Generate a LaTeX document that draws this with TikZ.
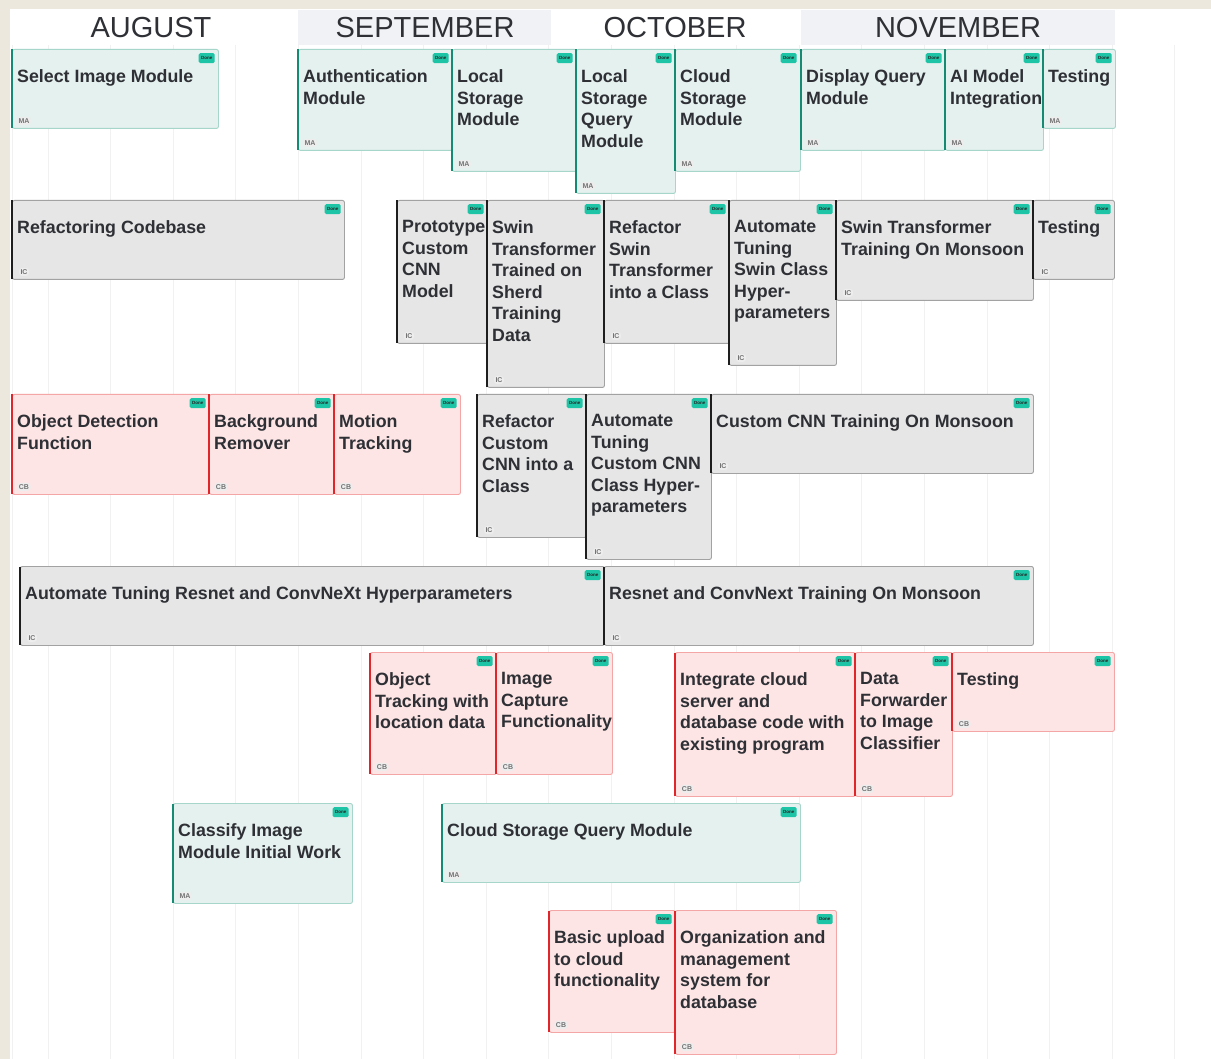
\documentclass[tikz,border=0pt]{standalone}
\usepackage{fontspec}
\setmainfont{Liberation Sans}
\definecolor{paper}{HTML}{EDE8DD}
\definecolor{monthgrey}{HTML}{F1F2F6}
\definecolor{gridcol}{HTML}{F1F1F1}
\definecolor{inkcol}{HTML}{2E3035}
\definecolor{mafill}{HTML}{E5F1EE}
\definecolor{mabord}{HTML}{A6D6CA}
\definecolor{maline}{HTML}{168B73}
\definecolor{icfill}{HTML}{E6E6E6}
\definecolor{icbord}{HTML}{A2A2A2}
\definecolor{icline}{HTML}{1E1E1E}
\definecolor{cbfill}{HTML}{FDE5E5}
\definecolor{cbbord}{HTML}{F4A5A5}
\definecolor{cbline}{HTML}{E0262A}
\definecolor{donefill}{HTML}{1DC4A6}
\tikzstyle{mabox} = [rectangle, rounded corners=2pt, anchor=north west, line width=0.9pt, draw=mabord, fill=mafill]
\tikzstyle{icbox} = [rectangle, rounded corners=2pt, anchor=north west, line width=0.9pt, draw=icbord, fill=icfill]
\tikzstyle{cbbox} = [rectangle, rounded corners=2pt, anchor=north west, line width=0.9pt, draw=cbbord, fill=cbfill]
\tikzstyle{maedge} = [line width=2.4pt, maline]
\tikzstyle{icedge} = [line width=2.4pt, icline]
\tikzstyle{cbedge} = [line width=2.4pt, cbline]
\tikzstyle{donetag} = [rectangle, rounded corners=1.5pt, fill=donefill, minimum width=16pt, minimum height=10pt, inner sep=0pt, text=black!85, font=\fontsize{4.5}{5}\selectfont\bfseries]
\tikzstyle{cardtitle} = [anchor=north west, align=left, inner sep=0pt, text=inkcol, font=\fontsize{17.8}{21.5}\selectfont\bfseries]
\tikzstyle{initials} = [rectangle, rounded corners=3pt, fill=black!7, inner sep=1.5pt, text=black!55, font=\fontsize{7}{8}\selectfont\bfseries]
\tikzstyle{month} = [inner sep=0pt, text=inkcol, font=\fontsize{29}{30}\selectfont]
\tikzstyle{gridline} = [gridcol, line width=0.8pt]
% card: name, kind, x, y, width, height, title, initials
\newcommand{\card}[8]{%
  \node (#1) [#2box, minimum width=#5pt, minimum height=#6pt] at (#3,#4) {};
  \draw [#2edge] ([yshift=-0.5pt]#1.north west) -- ([yshift=0.5pt]#1.south west);
  \node (#1-done) [donetag, anchor=north east] at ([xshift=-4pt,yshift=-4pt]#1.north east) {Done};
  \node (#1-title) [cardtitle] at ([xshift=5pt,yshift=-20.5pt]#1.north west) {#7};
  \node (#1-who) [initials] at ([xshift=12pt,yshift=8pt]#1.south west) {#8};
}

\begin{document}
\begin{tikzpicture}[x=1pt, y=-1pt]
\useasboundingbox (0,0) rectangle (1211,1059);
% board
\fill [paper] (0,0) rectangle (1211,1059);
\fill [white] (10,9) rectangle (1211,1059);
\fill [monthgrey] (298,10) rectangle (551,45);
\fill [monthgrey] (801,10) rectangle (1115,45);
\draw [gridline] (12,45) -- (12,1059);
\foreach \k in {0,...,18}
  \draw [gridline] ({48+62.6*\k},45) -- ({48+62.6*\k},1059);

% months
\node (aug) [month] at (151,28) {AUGUST};
\node (sep) [month] at (425,28) {SEPTEMBER};
\node (oct) [month] at (675,28) {OCTOBER};
\node (nov) [month] at (958,28) {NOVEMBER};

% MA
\card{ma1}{ma}{12}{49}{206}{79}{Select Image Module}{MA}
\card{ma2}{ma}{298}{49}{154}{101}{Authentication\\Module}{MA}
\card{ma3}{ma}{452}{49}{124}{122}{Local\\Storage\\Module}{MA}
\card{ma4}{ma}{576}{49}{99}{144}{Local\\Storage\\Query\\Module}{MA}
\card{ma5}{ma}{675}{49}{125}{122}{Cloud\\Storage\\Module}{MA}
\card{ma6}{ma}{801}{49}{144}{101}{Display Query\\Module}{MA}
\card{ma7}{ma}{945}{49}{98}{101}{AI Model\\Integration}{MA}
\card{ma8}{ma}{1043}{49}{72}{79}{Testing}{MA}

% IC
\card{ic1}{ic}{12}{200}{332}{79}{Refactoring Codebase}{IC}
\card{ic2}{ic}{397}{200}{90}{143}{Prototype\\Custom\\CNN\\Model}{IC}
\card{ic3}{ic}{487}{200}{117}{187}{Swin\\Transformer\\Trained on\\Sherd\\Training\\Data}{IC}
\card{ic4}{ic}{604}{200}{125}{143}{Refactor\\Swin\\Transformer\\into a Class}{IC}
\card{ic5}{ic}{729}{200}{107}{165}{Automate\\Tuning\\Swin Class\\Hyper-\\parameters}{IC}
\card{ic6}{ic}{836}{200}{197}{100}{Swin Transformer\\Training On Monsoon}{IC}
\card{ic7}{ic}{1033}{200}{81}{79}{Testing}{IC}

% CB
\card{cb1}{cb}{12}{394}{197}{100}{Object Detection\\Function}{CB}
\card{cb2}{cb}{209}{394}{125}{100}{Background\\Remover}{CB}
\card{cb3}{cb}{334}{394}{126}{100}{Motion\\Tracking}{CB}

% IC
\card{ic8}{ic}{477}{394}{109}{143}{Refactor\\Custom\\CNN into a\\Class}{IC}
\card{ic9}{ic}{586}{394}{125}{165}{Automate\\Tuning\\Custom CNN\\Class Hyper-\\parameters}{IC}
\card{ic10}{ic}{711}{394}{322}{79}{Custom CNN Training On Monsoon}{IC}
\card{ic11}{ic}{20}{566}{584}{79}{Automate Tuning Resnet and ConvNeXt Hyperparameters}{IC}
\card{ic12}{ic}{604}{566}{429}{79}{Resnet and ConvNext Training On Monsoon}{IC}

% CB
\card{cb4}{cb}{370}{652}{126}{122}{Object\\Tracking with\\location data}{CB}
\card{cb5}{cb}{496}{652}{116}{122}{Image\\Capture\\Functionality}{CB}
\card{cb6}{cb}{675}{652}{180}{144}{Integrate cloud\\server and\\database code with\\existing program}{CB}
\card{cb7}{cb}{855}{652}{97}{144}{Data\\Forwarder\\to Image\\Classifier}{CB}
\card{cb8}{cb}{952}{652}{162}{79}{Testing}{CB}

% MA
\card{ma9}{ma}{173}{803}{179}{100}{Classify Image\\Module Initial Work}{MA}
\card{ma10}{ma}{442}{803}{358}{79}{Cloud Storage Query Module}{MA}

% CB
\card{cb9}{cb}{549}{910}{126}{122}{Basic upload\\to cloud\\functionality}{CB}
\card{cb10}{cb}{675}{910}{161}{144}{Organization and\\management\\system for\\database}{CB}
\end{tikzpicture}
\end{document}
